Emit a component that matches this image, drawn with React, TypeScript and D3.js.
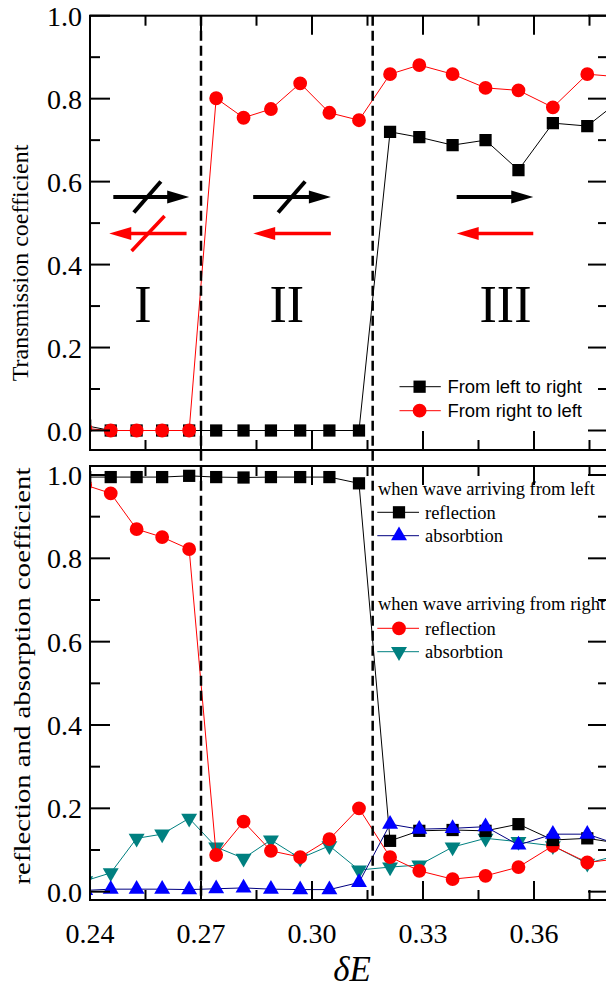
import React from 'react'
import * as d3 from 'd3'

// delta E sample positions (first and last are just outside the axis range)
const dE = [0.2387, 0.2456, 0.2526, 0.2595, 0.2668, 0.2741, 0.2815, 0.2889, 0.2968, 0.3047, 0.3127, 0.3211, 0.3290, 0.3380, 0.3469, 0.3558, 0.3651, 0.3744, 0.3838]

// transmission
const transLeftToRight = [0.012, 0, 0, 0, 0, 0, 0, 0, 0, 0, 0, 0.720, 0.707, 0.688, 0.700, 0.628, 0.741, 0.734, 0.80]
const transRightToLeft = [0.005, 0, 0, 0, 0, 0.801, 0.754, 0.775, 0.837, 0.766, 0.748, 0.859, 0.881, 0.859, 0.826, 0.820, 0.779, 0.859, 0.852]

// reflection / absorption
const reflLeft = [0.995, 0.995, 0.995, 0.995, 0.998, 0.995, 0.994, 0.995, 0.995, 0.995, 0.980, 0.122, 0.146, 0.148, 0.146, 0.162, 0.124, 0.128, 0.115]
const absLeft = [0.003, 0.006, 0.006, 0.006, 0.005, 0.007, 0.009, 0.006, 0.005, 0.005, 0.022, 0.162, 0.150, 0.152, 0.156, 0.112, 0.138, 0.138, 0.11]
const reflRight = [0.976, 0.956, 0.870, 0.851, 0.822, 0.088, 0.168, 0.098, 0.083, 0.126, 0.200, 0.083, 0.050, 0.030, 0.038, 0.059, 0.110, 0.070, 0.08]
const absRight = [0.026, 0.045, 0.128, 0.138, 0.176, 0.107, 0.080, 0.124, 0.080, 0.110, 0.052, 0.059, 0.064, 0.107, 0.128, 0.120, 0.110, 0.068, 0.09]

const xTicks = [0.24, 0.27, 0.30, 0.33, 0.36]
const xMinor = [0.255, 0.285, 0.315, 0.345, 0.375]
const yTicks = [0, 0.2, 0.4, 0.6, 0.8, 1.0]
const yMinor = [0.1, 0.3, 0.5, 0.7, 0.9]
const boundaries = [0.27, 0.3164]

const regionNames = ['I', 'II', 'III']
const regionX = [0.2543, 0.2932, 0.3523]
// arrows: [from, to] in dE
const blackArrows = [[0.2463, 0.2668], [0.2841, 0.3051], [0.3391, 0.3598]]
const redArrows = [[0.2661, 0.2452], [0.3051, 0.2841], [0.3598, 0.3391]]
const blackSlashX = [0.2555, 0.2945]
const redSlashX = [0.2557]
const blackArrowY = 0.563
const redArrowY = 0.475

const W = 606
const H = 990
const L = 90
const R = 608

const x = d3.scaleLinear().domain([0.24, 0.38]).range([L, R])
const yTop = d3.scaleLinear().domain([-0.047, 1]).range([450, 15.7])
const yBot = d3.scaleLinear().domain([-0.02, 1.0216]).range([900, 466])

const serif = "'Liberation Serif', 'Times New Roman', serif"
const sans = "'Liberation Sans', Arial, sans-serif"

const sq = d3.symbol().type(d3.symbolSquare).size(150)
const circ = d3.symbol().type(d3.symbolCircle).size(150)
const tri = d3.symbol().type(d3.symbolTriangle).size(110)

function Marker({ kind, cx, cy, color }: any) {
    if (kind === 'square') return <path d={sq()!} transform={`translate(${cx},${cy})`} fill={color} />
    if (kind === 'circle') return <path d={circ()!} transform={`translate(${cx},${cy})`} fill={color} />
    if (kind === 'up') return <path d={tri()!} transform={`translate(${cx},${cy})`} fill={color} />
    return <path d={tri()!} transform={`translate(${cx},${cy}) rotate(180)`} fill={color} />
}

function Series({ values, y, kind, color, lineColor }: any) {
    const line = d3.line<number>().x((d, i) => x(dE[i])).y(d => y(d))
    return (
        <g>
            <path d={line(values)!} fill="none" stroke={lineColor || color} strokeWidth={1} />
            {values.map((v: number, i: number) => (
                <Marker key={i} kind={kind} cx={x(dE[i])} cy={y(v)} color={color} />
            ))}
        </g>
    )
}

function Frame({ y }: any) {
    const [bottom, top] = y.range()
    return (
        <g stroke="#000" fill="none">
            <rect x={L} y={top} width={R - L} height={bottom - top} strokeWidth={2} />
            {xTicks.concat([0.39]).map((t, i) => (
                <g key={'x' + i} strokeWidth={2}>
                    <line x1={x(t)} x2={x(t)} y1={bottom} y2={bottom - 19} />
                    <line x1={x(t)} x2={x(t)} y1={top} y2={top + 19} />
                </g>
            ))}
            {xMinor.map((t, i) => (
                <g key={'xm' + i} strokeWidth={2}>
                    <line x1={x(t)} x2={x(t)} y1={bottom} y2={bottom - 10} />
                    <line x1={x(t)} x2={x(t)} y1={top} y2={top + 10} />
                </g>
            ))}
            {yTicks.map((t, i) => (
                <g key={'y' + i} strokeWidth={2}>
                    <line x1={L} x2={L + 20} y1={y(t)} y2={y(t)} />
                    <line x1={R} x2={R - 20} y1={y(t)} y2={y(t)} />
                </g>
            ))}
            {yMinor.map((t, i) => (
                <g key={'ym' + i} strokeWidth={2}>
                    <line x1={L} x2={L + 10} y1={y(t)} y2={y(t)} />
                    <line x1={R} x2={R - 10} y1={y(t)} y2={y(t)} />
                </g>
            ))}
        </g>
    )
}

function YLabels({ y }: any) {
    return (
        <g fontFamily={serif} fontSize={28} textAnchor="end">
            {yTicks.map((t, i) => (
                <text key={i} x={82} y={y(t) + 10}>{t.toFixed(1)}</text>
            ))}
        </g>
    )
}

function Arrow({ from, to, yv, color, width }: any) {
    const x1 = x(from)
    const x2 = x(to)
    const yy = yTop(yv)
    const dir = x2 > x1 ? 1 : -1
    const hl = 22
    return (
        <g>
            <line x1={x1} x2={x2 - dir * hl * 0.7} y1={yy} y2={yy} stroke={color} strokeWidth={width} />
            <path d={`M${x2},${yy} L${x2 - dir * hl},${yy - 6.5} L${x2 - dir * hl},${yy + 6.5} Z`} fill={color} />
        </g>
    )
}

export default function App() {
    const clipTop = 'clip-top'
    const clipBot = 'clip-bot'
    return (
        <svg width={W} height={H} style={{ position: 'absolute', left: 0, top: 0, background: '#fff' }}>
            <defs>
                <clipPath id={clipTop}><rect x={L} y={15.7} width={R - L} height={450 - 15.7} /></clipPath>
                <clipPath id={clipBot}><rect x={L} y={466} width={R - L} height={900 - 466} /></clipPath>
            </defs>

            {/* top panel */}
            <g clipPath={`url(#${clipTop})`}>
                <Series values={transLeftToRight} y={yTop} kind="square" color="#000" />
                <Series values={transRightToLeft} y={yTop} kind="circle" color="#ff0000" />
            </g>
            <Frame y={yTop} />
            <YLabels y={yTop} />

            {regionNames.map((r, i) => (
                <text key={r} x={x(regionX[i])} y={322} fontFamily={serif} fontSize={52} textAnchor="middle">{r}</text>
            ))}
            {blackArrows.map((a, i) => (
                <Arrow key={'b' + i} from={a[0]} to={a[1]} yv={blackArrowY} color="#000" width={4} />
            ))}
            {redArrows.map((a, i) => (
                <Arrow key={'r' + i} from={a[0]} to={a[1]} yv={redArrowY} color="#ff0000" width={3.5} />
            ))}
            {blackSlashX.map((s, i) => (
                <line key={'bs' + i} x1={x(s) - 13.5} x2={x(s) + 13.5} y1={yTop(blackArrowY) + 15.5} y2={yTop(blackArrowY) - 15.5} stroke="#000" strokeWidth={4} />
            ))}
            {redSlashX.map((s, i) => (
                <line key={'rs' + i} x1={x(s) - 16.5} x2={x(s) + 16.5} y1={yTop(redArrowY) + 17.5} y2={yTop(redArrowY) - 17.5} stroke="#ff0000" strokeWidth={3.5} />
            ))}

            {/* top legend */}
            <g fontFamily={sans} fontSize={18.5}>
                <line x1={399.5} x2={440.8} y1={386.7} y2={386.7} stroke="#000" />
                <Marker kind="square" cx={419.6} cy={386.7} color="#000" />
                <text x={447.4} y={393.3} textLength={134.6} lengthAdjust="spacingAndGlyphs">From left to right</text>
                <line x1={399.5} x2={440.8} y1={410.7} y2={410.7} stroke="#ff0000" />
                <Marker kind="circle" cx={419.6} cy={410.7} color="#ff0000" />
                <text x={447.4} y={417.3} textLength={134.6} lengthAdjust="spacingAndGlyphs">From right to left</text>
            </g>

            {/* bottom panel */}
            <g clipPath={`url(#${clipBot})`}>
                <Series values={absRight} y={yBot} kind="down" color="#008080" />
                <Series values={reflRight} y={yBot} kind="circle" color="#ff0000" />
                <Series values={reflLeft} y={yBot} kind="square" color="#000" />
                <Series values={absLeft} y={yBot} kind="up" color="#0000ff" lineColor="#000080" />
            </g>
            <Frame y={yBot} />
            <YLabels y={yBot} />

            {/* phase boundaries */}
            {boundaries.map((b, i) => (
                <line key={i} x1={x(b)} x2={x(b)} y1={15.7} y2={900} stroke="#000" strokeWidth={2.5} strokeDasharray="10,5" />
            ))}

            {/* bottom legend */}
            <g fontFamily={serif} fontSize={18.5}>
                <text x={378} y={495}>when wave arriving from left</text>
                <line x1={377.3} x2={419} y1={512.3} y2={512.3} stroke="#000" />
                <Marker kind="square" cx={399} cy={512.3} color="#000" />
                <text x={425} y={518.5}>reflection</text>
                <line x1={377.3} x2={419} y1={535.7} y2={535.7} stroke="#000080" />
                <Marker kind="up" cx={399} cy={535.7} color="#0000ff" />
                <text x={425} y={541.9}>absorbtion</text>

                <text x={378} y={610}>when wave arriving from right</text>
                <line x1={377.3} x2={419} y1={628.3} y2={628.3} stroke="#ff0000" />
                <Marker kind="circle" cx={399} cy={628.3} color="#ff0000" />
                <text x={425} y={634.5}>reflection</text>
                <line x1={377.3} x2={419} y1={651.7} y2={651.7} stroke="#008080" />
                <Marker kind="down" cx={399} cy={651.7} color="#008080" />
                <text x={425} y={657.9}>absorbtion</text>
            </g>

            {/* x labels */}
            <g fontFamily={serif} fontSize={28} textAnchor="middle">
                {xTicks.map((t, i) => (
                    <text key={i} x={x(t)} y={943}>{t.toFixed(2)}</text>
                ))}
            </g>
            <text x={352} y={981} fontFamily={serif} fontSize={35} fontStyle="italic" textAnchor="middle">δE</text>

            {/* y titles */}
            <text transform="translate(28,263) rotate(-90)" fontFamily={serif} fontSize={24} textAnchor="middle">Transmission coefficient</text>
            <text transform="translate(30,676) rotate(-90)" fontFamily={serif} fontSize={24} textAnchor="middle" textLength={417} lengthAdjust="spacingAndGlyphs">reflection and absorption coefficient</text>
        </svg>
    )
}
